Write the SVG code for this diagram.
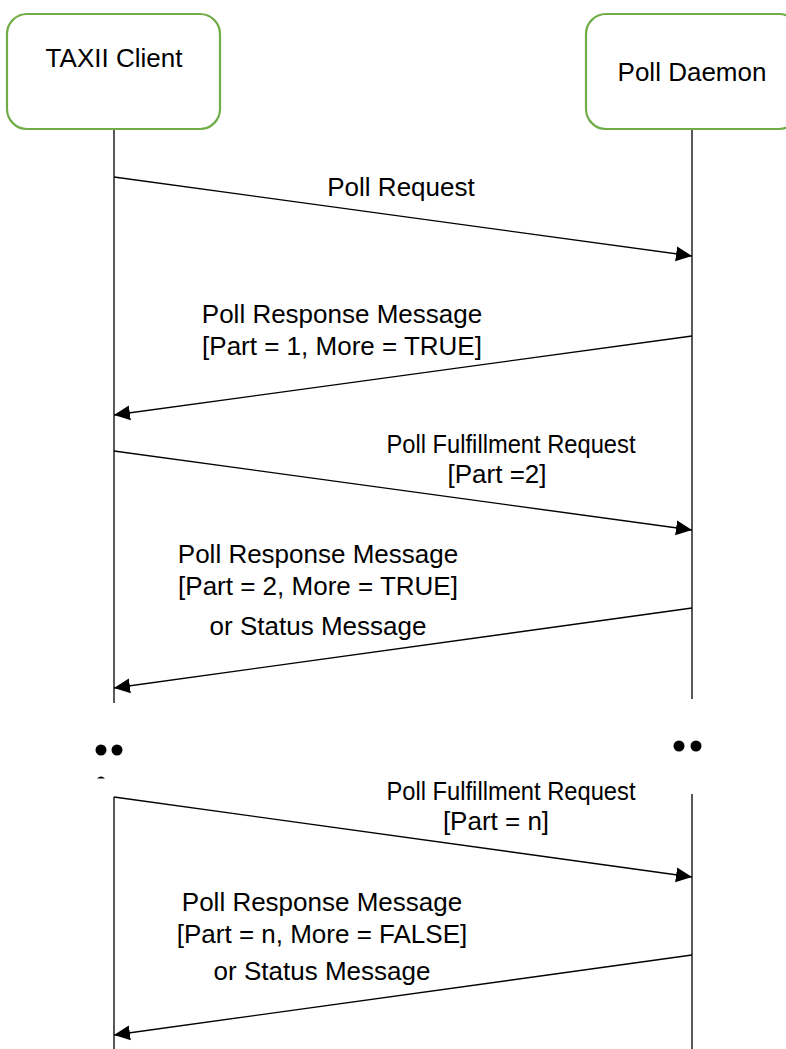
<svg xmlns="http://www.w3.org/2000/svg" width="786" height="1049" viewBox="0 0 786 1049">
<style>
.box{fill:#ffffff;stroke:#70AD47;stroke-width:2.2}
.life{stroke:#595959;stroke-width:2;fill:none}
.msg{stroke:#000000;stroke-width:1.4;fill:none;marker-end:url(#ah)}
text{font-family:"Liberation Sans",Arial,sans-serif;font-size:26px;fill:#000000;text-anchor:middle}
.dot{fill:#000000}
</style>
<defs>
<marker id="ah" markerUnits="userSpaceOnUse" markerWidth="17" markerHeight="16" refX="16" refY="8" orient="auto">
<path d="M0,0.5 L16,8 L0,15.5 Z" fill="#000000"/>
</marker>
</defs>
<rect width="786" height="1049" fill="#ffffff"/>
<g id="lifelines">
<line class="life" x1="114" y1="129" x2="114" y2="703"/>
<line class="life" x1="114" y1="797" x2="114" y2="1049"/>
<line class="life" x1="692" y1="129" x2="692" y2="699"/>
<line class="life" x1="692" y1="794" x2="692" y2="1049"/>
</g>
<g id="taxii-client">
<rect class="box" x="7" y="14" width="213" height="115" rx="20" ry="20"/>
<text x="114" y="67">TAXII Client</text>
</g>
<g id="poll-daemon">
<rect class="box" x="586" y="14" width="213" height="115" rx="20" ry="20"/>
<text x="692" y="81">Poll Daemon</text>
</g>
<g id="connectors">
<line class="msg" x1="114" y1="177" x2="692" y2="256"/>
<line class="msg" x1="692" y1="336" x2="114" y2="415"/>
<line class="msg" x1="114" y1="451" x2="692" y2="530"/>
<line class="msg" x1="692" y1="608" x2="114" y2="688"/>
<line class="msg" x1="114" y1="797" x2="692" y2="877"/>
<line class="msg" x1="692" y1="955" x2="114" y2="1035"/>
</g>
<g id="labels">
<text x="401" y="196">Poll Request</text>
<text x="342" y="323">Poll Response Message</text>
<text x="342" y="355">[Part = 1, More = TRUE]</text>
<text x="511" y="453" textLength="249" lengthAdjust="spacingAndGlyphs">Poll Fulfillment Request</text>
<text x="497" y="483">[Part =2]</text>
<text x="318" y="563">Poll Response Message</text>
<text x="318" y="595">[Part = 2, More = TRUE]</text>
<text x="318" y="635">or Status Message</text>
<text x="511" y="800" textLength="249" lengthAdjust="spacingAndGlyphs">Poll Fulfillment Request</text>
<text x="496" y="830">[Part = n]</text>
<text x="322" y="911">Poll Response Message</text>
<text x="322" y="943">[Part = n, More = FALSE]</text>
<text x="322" y="980">or Status Message</text>
</g>
<g id="ellipsis-left">
<circle class="dot" cx="101" cy="750" r="5.5"/>
<circle class="dot" cx="117" cy="750" r="5.5"/>
<path class="dot" d="M97,778.5 Q101,774.5 105,778.5 Z"/>
</g>
<g id="ellipsis-right">
<circle class="dot" cx="679" cy="746" r="5.5"/>
<circle class="dot" cx="696" cy="746" r="5.5"/>
</g>
</svg>
